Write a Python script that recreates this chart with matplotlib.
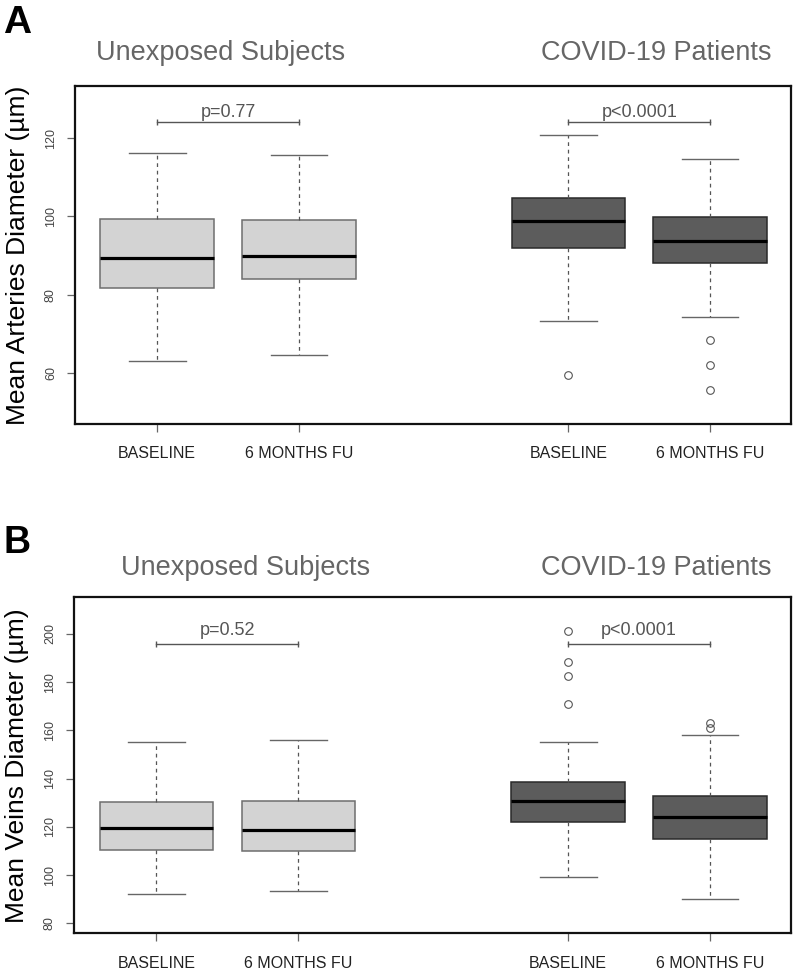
import matplotlib.pyplot as plt

plt.rcParams['font.family'] = ['Liberation Sans', 'DejaVu Sans']

# groups and x positions (unexposed pair, covid pair)
labels = ['BASELINE', '6 MONTHS FU', 'BASELINE', '6 MONTHS FU']
positions = [1, 2, 3.9, 4.9]

# panel A: mean arteries diameter (um)
art_whislo = [63.1, 64.7, 73.3, 74.4]
art_q1 = [81.8, 84.1, 92.0, 88.0]
art_med = [89.4, 89.9, 98.8, 93.7]
art_q3 = [99.3, 99.1, 104.8, 99.9]
art_whishi = [116.2, 115.8, 120.9, 114.7]
art_fliers = [[], [], [59.4], [68.5, 62.1, 55.6]]

# panel B: mean veins diameter (um)
vei_whislo = [92.3, 93.3, 99.1, 90.0]
vei_q1 = [110.5, 110.0, 122.0, 115.1]
vei_med = [119.4, 118.7, 130.7, 124.0]
vei_q3 = [130.3, 130.7, 138.7, 132.8]
vei_whishi = [155.1, 156.1, 155.2, 158.0]
vei_fliers = [[], [], [201.2, 188.3, 182.4, 170.8], [162.9, 160.9]]

p_art = ['p=0.77', 'p<0.0001']
p_vei = ['p=0.52', 'p<0.0001']

fills = ['#d3d3d3', '#d3d3d3', '#5c5c5c', '#5c5c5c']
edges = ['#6e6e6e', '#6e6e6e', '#2a2a2a', '#2a2a2a']


def panel(ax, lo, q1, med, q3, hi, fliers, pvals, bracket_y, ylim, yticks,
          ylabel, text_off):
    stats = []
    for i in range(4):
        stats.append(dict(whislo=lo[i], q1=q1[i], med=med[i], q3=q3[i],
                          whishi=hi[i], fliers=fliers[i]))
    bp = ax.bxp(stats, positions=positions, widths=0.8, capwidths=0.4,
                patch_artist=True, showfliers=True,
                medianprops=dict(color='black', lw=2.3),
                whiskerprops=dict(color='#555555', lw=0.9, ls=(0, (3, 3))),
                capprops=dict(color='#666666', lw=1.0),
                flierprops=dict(marker='o', mfc='none', mec='#555555',
                                ms=5.5, mew=0.8))
    for patch, fc, ec in zip(bp['boxes'], fills, edges):
        patch.set_facecolor(fc)
        patch.set_edgecolor(ec)
        patch.set_linewidth(1.1)

    # significance brackets
    for k, (a, b) in enumerate([(0, 1), (2, 3)]):
        xa, xb = positions[a], positions[b]
        ax.plot([xa, xb], [bracket_y, bracket_y], color='#555555', lw=1.0)
        ax.plot([xa, xb], [bracket_y, bracket_y], ls='none', marker='|',
                ms=5, mew=1.0, color='#555555')
        ax.annotate(pvals[k], xy=((xa + xb) / 2, bracket_y),
                    xytext=(0, text_off), textcoords='offset points',
                    ha='center', va='baseline', fontsize=13, color='#555555')

    ax.set_xlim(0.42, 5.47)
    ax.set_ylim(*ylim)
    ax.set_yticks(yticks)
    ax.set_xticks(positions)
    ax.set_xticklabels(labels, fontsize=11.5, color='#222222')
    ax.tick_params(axis='y', labelrotation=90, labelsize=9, length=6,
                   width=0.9, color='#666666', labelcolor='#444444', pad=7)
    ax.tick_params(axis='x', length=6, width=0.9, color='#666666', pad=10)
    for lab in ax.get_yticklabels():
        lab.set_va('center')
    for s in ax.spines.values():
        s.set_linewidth(1.6)
        s.set_color('#111111')
    ax.set_ylabel(ylabel, fontsize=19, va='center')
    ax.yaxis.set_label_coords(-0.08, 0.5)


fig = plt.figure(figsize=(7.95, 9.74), dpi=100)
axA = fig.add_axes([0.0943, 0.5647, 0.9006, 0.3470])
axB = fig.add_axes([0.0931, 0.0416, 0.9019, 0.3455])

panel(axA, art_whislo, art_q1, art_med, art_q3, art_whishi, art_fliers,
      p_art, 124.1, (47, 133.3), [60, 80, 100, 120],
      'Mean Arteries Diameter (µm)', 3.8)
panel(axB, vei_whislo, vei_q1, vei_med, vei_q3, vei_whishi, vei_fliers,
      p_vei, 195.8, (75.8, 215.3), [80, 100, 120, 140, 160, 180, 200],
      'Mean Veins Diameter (µm)', 6.5)

H = 974.0
W = 795.0
tkw = dict(fontsize=19.5, color='#666666', ha='center', va='baseline')
fig.text(221 / W, 1 - 59.5 / H, 'Unexposed Subjects', **tkw)
fig.text(656 / W, 1 - 60 / H, 'COVID-19 Patients', **tkw)
fig.text(246 / W, 1 - 575 / H, 'Unexposed Subjects', **tkw)
fig.text(656 / W, 1 - 575 / H, 'COVID-19 Patients', **tkw)

fig.text(3 / W, 1 - 33 / H, 'A', fontsize=28, fontweight='bold',
         ha='left', va='baseline')
fig.text(3 / W, 1 - 553 / H, 'B', fontsize=27, fontweight='bold',
         ha='left', va='baseline')

fig.savefig('out.png', dpi=100)
